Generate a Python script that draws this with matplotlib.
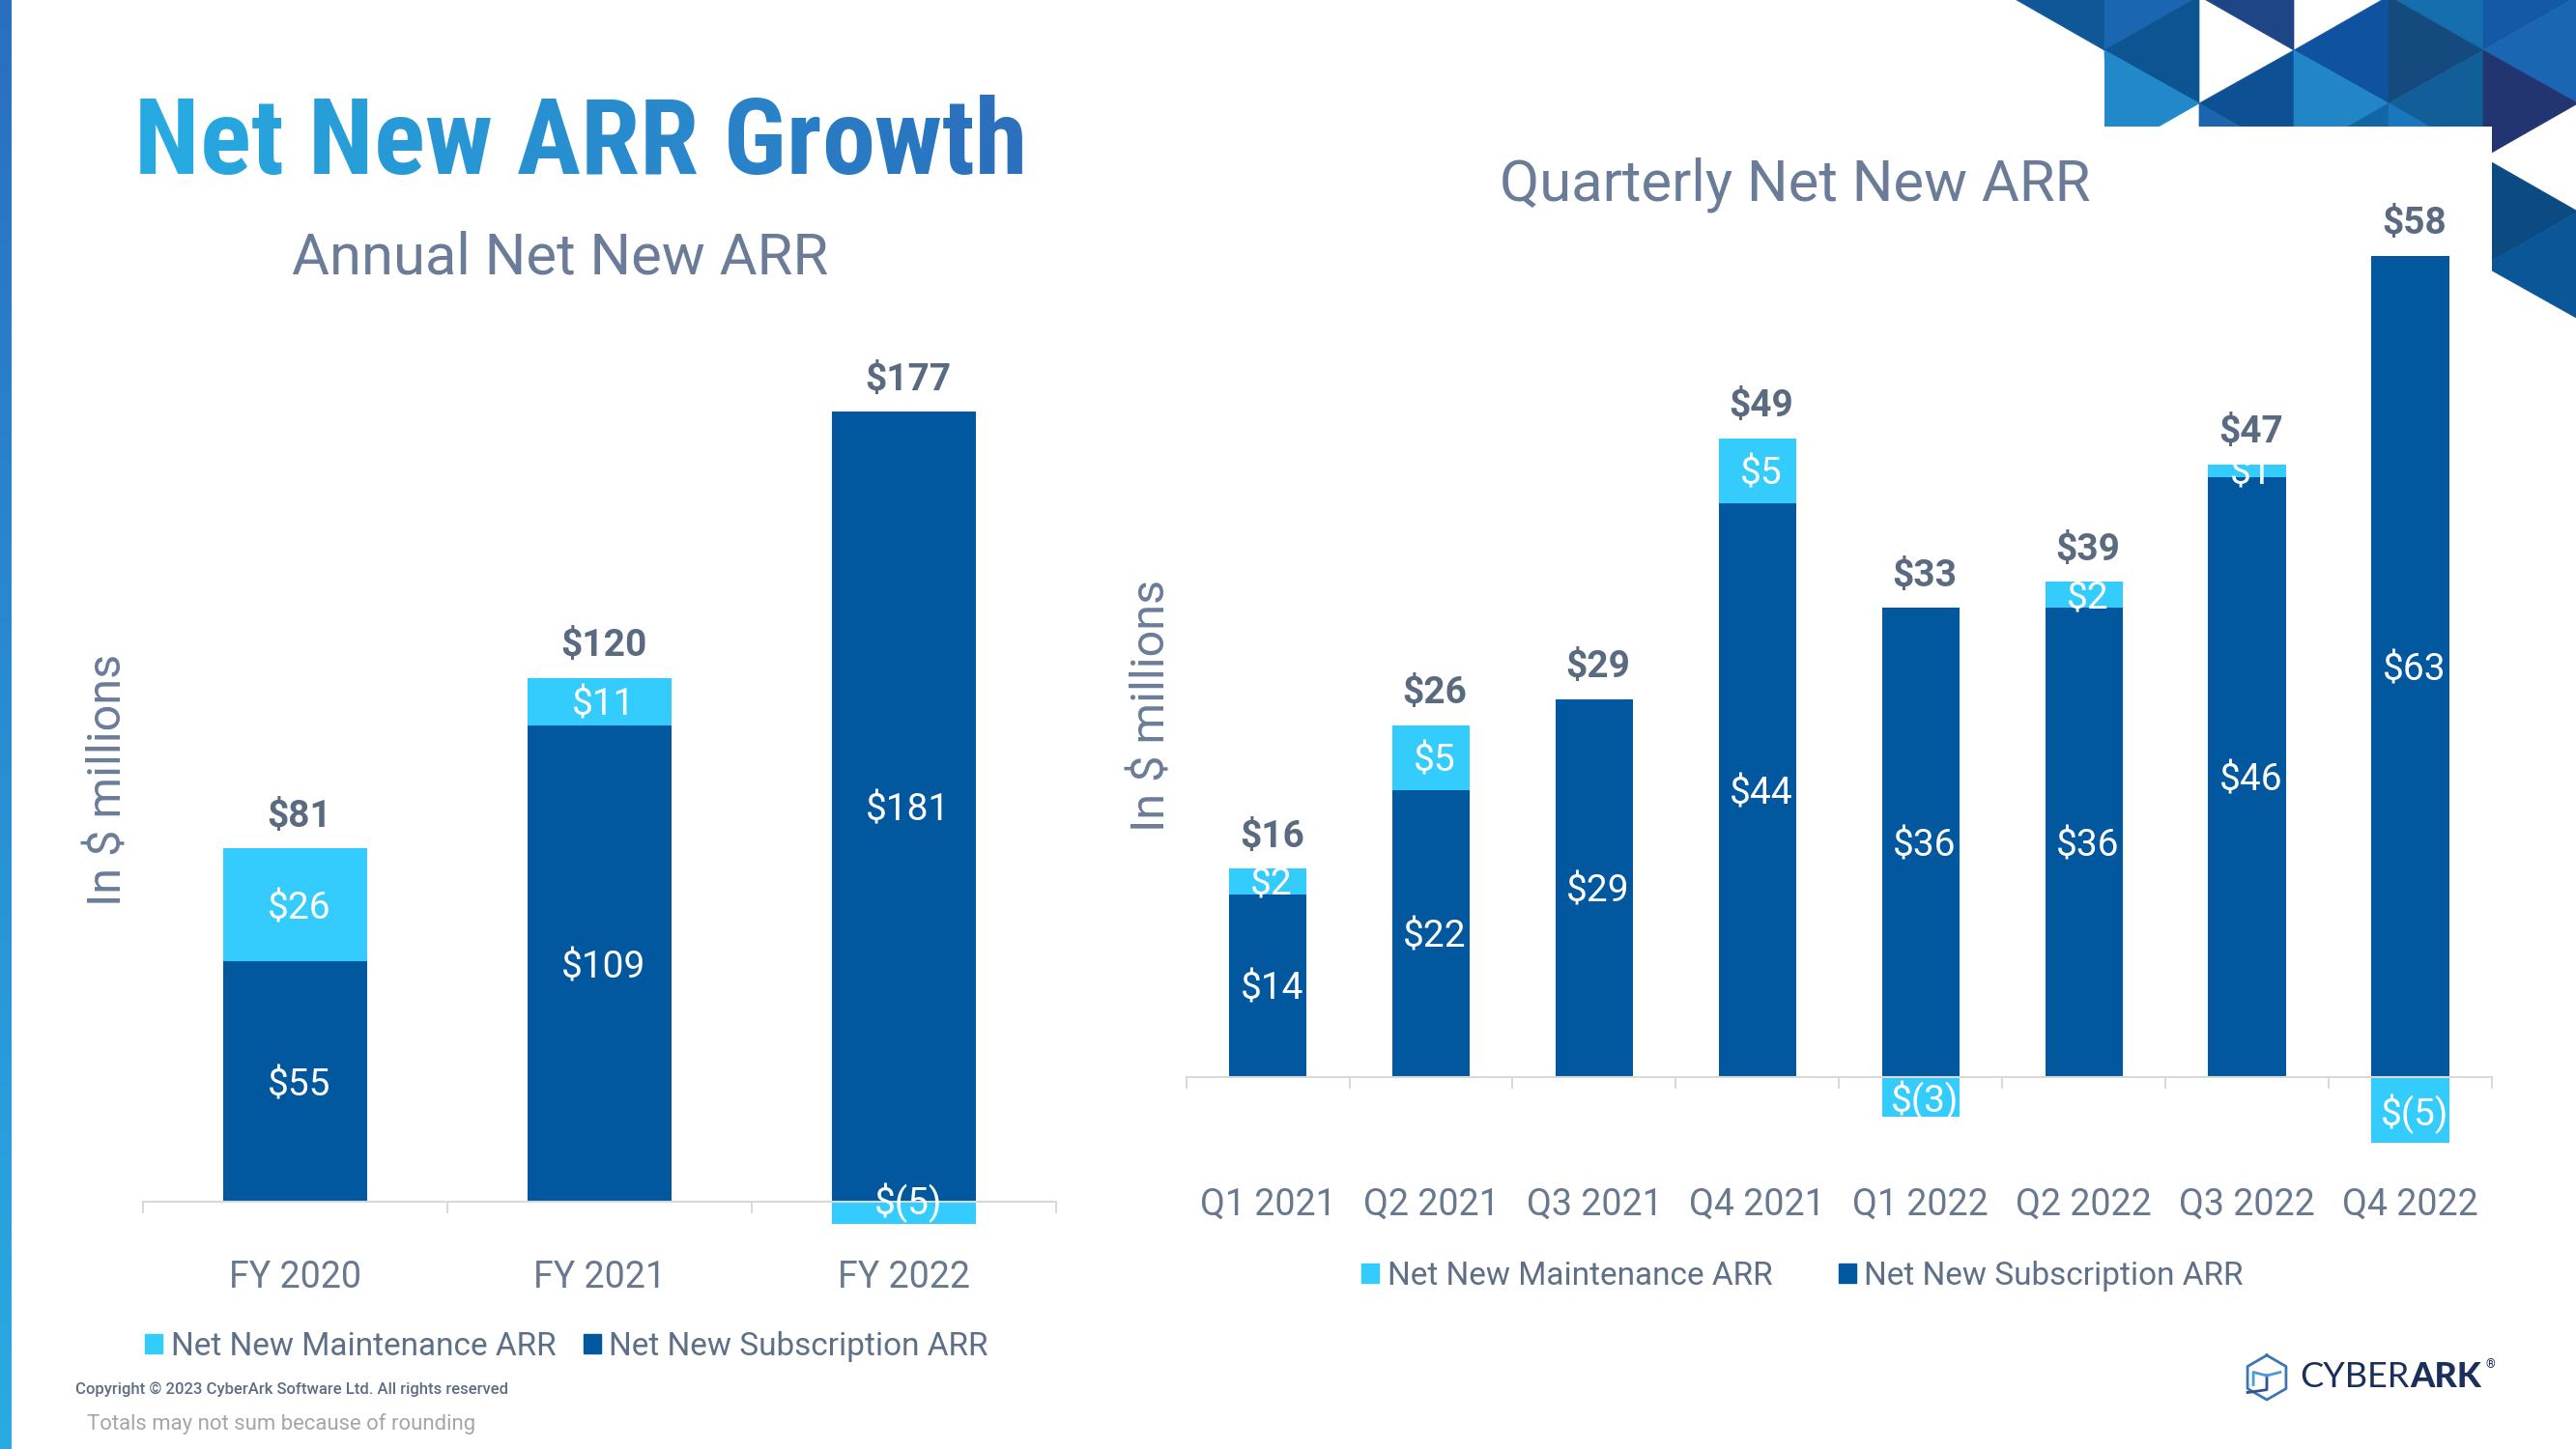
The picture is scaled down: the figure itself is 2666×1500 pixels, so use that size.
import matplotlib
matplotlib.use("Agg")
import matplotlib.pyplot as plt
from matplotlib import font_manager
from matplotlib.patches import Patch, Polygon
from matplotlib.colors import LinearSegmentedColormap, to_rgb
import numpy as np

# ---- data ----
years = ["FY 2020", "FY 2021", "FY 2022"]
year_subs = [55, 109, 181]
year_maint = [26, 11, -5]
year_total = [81, 120, 177]

quarters = ["Q1 2021", "Q2 2021", "Q3 2021", "Q4 2021",
            "Q1 2022", "Q2 2022", "Q3 2022", "Q4 2022"]
q_subs = [14, 22, 29, 44, 36, 36, 46, 63]
q_maint = [2, 5, 0, 5, -3, 2, 1, -5]
q_total = [16, 26, 29, 49, 33, 39, 47, 58]

legend_names = ["Net New Maintenance ARR", "Net New Subscription ARR"]

# ---- style ----
SUB = "#02589e"
MAINT = "#33ccfc"
SLATE = "#68788f"
TOTAL_C = "#5a6a80"
GRID = "#d9d9d9"

plt.rcParams['font.family'] = ['Roboto', 'DejaVu Sans']
names = {f.name for f in font_manager.fontManager.ttflist}
cond = 'Roboto Condensed' in names

W, H = 2666, 1500
fig = plt.figure(figsize=(26.66, 15), dpi=100)
fig.patch.set_facecolor("white")

# background layer in pixel coordinates
bg = fig.add_axes([0, 0, 1, 1], zorder=0)
bg.set_axis_off()

# left stripe gradient
stripe = LinearSegmentedColormap.from_list("stripe", ["#2a6fbf", "#29abe2"])
bg.imshow(np.linspace(0, 1, 256).reshape(-1, 1), cmap=stripe, extent=[0, 12, 1500, 0],
          aspect='auto', zorder=1)

# triangle decoration top right
c = [2080, 2178, 2276, 2374, 2472, 2570, 2668]
ev = [-4, 107, 219, 330]     # vertices on even columns
od = [-60, 52, 163, 275]     # vertices on odd columns
tris = [
    ((c[0], ev[0]), (c[1], od[0]), (c[1], od[1]), "#0f5796"),
    ((c[1], od[0]), (c[2], ev[0]), (c[1], od[1]), "#1b66b0"),
    ((c[1], od[1]), (c[2], ev[0]), (c[2], ev[1]), "#0c5592"),
    ((c[1], od[1]), (c[2], ev[1]), (c[1], od[2]), "#2189c9"),
    ((c[2], ev[0]), (c[3], od[0]), (c[3], od[1]), "#1e4585"),
    ((c[2], ev[1]), (c[3], od[1]), (c[3], od[2]), "#0d5094"),
    ((c[2], ev[1]), (c[3], od[2]), (c[2], ev[2]), "#1b65ae"),
    ((c[3], od[1]), (c[4], ev[0]), (c[4], ev[1]), "#0f52a0"),
    ((c[3], od[1]), (c[4], ev[1]), (c[3], od[2]), "#2286c6"),
    ((c[4], ev[1]), (c[3], od[2]), (c[4], ev[2]), "#1167a6"),
    ((c[4], ev[0]), (c[5], od[0]), (c[5], od[1]), "#156fae"),
    ((c[4], ev[0]), (c[5], od[1]), (c[4], ev[1]), "#154a7e"),
    ((c[4], ev[1]), (c[5], od[1]), (c[5], od[2]), "#125e98"),
    ((c[4], ev[1]), (c[5], od[2]), (c[4], ev[2]), "#1a77bd"),
    ((c[5], od[1]), (c[6], ev[0]), (c[5], od[0]), "#1459a6"),
    ((c[5], od[1]), (c[6], ev[0]), (c[6], ev[1]), "#1b66b2"),
    ((c[5], od[1]), (c[6], ev[1]), (c[5], od[2]), "#233570"),
    ((c[5], od[2]), (c[6], ev[2]), (c[5], od[3]), "#0b4b82"),
    ((c[6], ev[2]), (c[5], od[3]), (c[6], ev[3]), "#0b5696"),
]
clip = Polygon([(2060, 0), (2670, 0), (2670, 333), (2579, 333), (2579, 131),
                (2178, 131), (2178, 60), (2060, 0)], closed=True,
               transform=bg.transData, facecolor="none", edgecolor="none")
bg.add_patch(clip)
for a, b, d, col in tris:
    p = Polygon([a, b, d], closed=True, facecolor=col, edgecolor=col, lw=0.5)
    bg.add_patch(p)
    p.set_clip_path(clip)

# logo icon
cx, cy, r = 2346, 1426, 23
ang = np.radians(np.arange(90, 451, 60))
hx, hy = cx + r * np.cos(ang), cy - r * np.sin(ang)
bg.plot(hx, hy, color="#3b77b5", lw=2)
bg.plot([cx, cx, hx[2]], [cy - 2, cy + r * 0.55, hy[2] + 4], color="#33508a", lw=2)
bg.plot([cx, hx[1] + 6, hx[1] + 6], [cy - 2, hy[1] + 6, hy[2] - 4], color="#4a9bd6", lw=2)
bg.plot([cx, hx[5] - 6], [cy - 2, hy[5] + 6], color="#4a9bd6", lw=2)

bg.set_xlim(0, W)
bg.set_ylim(H, 0)

# ---- title with a left-to-right gradient ----
renderer = fig.canvas.get_renderer()
title = "Net New ARR Growth"
if cond:
    tprop = font_manager.FontProperties(family='Roboto Condensed', weight='bold', size=79.5)
else:
    tprop = font_manager.FontProperties(family='Roboto', weight='bold', size=72)
c0, c1 = np.array(to_rgb("#27aae1")), np.array(to_rgb("#2a6cba"))
full_w = renderer.get_text_width_height_descent(title, tprop, ismath=False)[0]
for i, ch in enumerate(title):
    if ch == " ":
        continue
    right = renderer.get_text_width_height_descent(title[:i + 1], tprop, ismath=False)[0]
    own = renderer.get_text_width_height_descent(ch, tprop, ismath=False)[0]
    left = right - own
    f = left / full_w
    fig.text((139 + left) / W, 1 - 180 / H, ch, fontproperties=tprop,
             color=c0 * (1 - f) + c1 * f, ha='left', va='baseline')

fig.text(580 / W, 1 - 284 / H, "Annual Net New ARR", fontsize=43, color="#6a7c98",
         ha='center', va='baseline')
fig.text(1858 / W, 1 - 207 / H, "Quarterly Net New ARR", fontsize=43, color="#6a7c98",
         ha='center', va='baseline')
fig.text(112 / W, 1 - 807 / H, "In $ millions", fontsize=35, color="#6a7c98",
         rotation=90, ha='center', va='center')
fig.text(1192 / W, 1 - 730 / H, "In $ millions", fontsize=35, color="#6a7c98",
         rotation=90, ha='center', va='center')


def money(v):
    return "$(%d)" % abs(v) if v < 0 else "$%d" % v


def draw_chart(ax, cats, subs, maint, totals, ylim, pad, neg_at_zero):
    x = np.arange(len(cats))
    bottoms = [s if m > 0 else 0 for s, m in zip(subs, maint)]
    ax.bar(x, subs, width=0.475, color=SUB, zorder=2)
    ax.bar(x, maint, width=0.475, bottom=bottoms, color=MAINT, zorder=2)
    for i in range(len(cats)):
        s, m = subs[i], maint[i]
        ax.annotate(money(s), (x[i], s / 2), xytext=(3, 0), textcoords='offset points',
                    color="white", fontsize=28, ha='center', va='center_baseline', zorder=4)
        if m != 0:
            if m > 0:
                ym = s + m / 2
            else:
                ym = 0 if neg_at_zero else m / 2
            ax.annotate(money(m), (x[i], ym), xytext=(3, 2 if neg_at_zero and m < 0 else 0),
                        textcoords='offset points', color="white", fontsize=28,
                        ha='center', va='center_baseline', zorder=4)
        ax.annotate(money(totals[i]), (x[i], s + max(m, 0)), xytext=(3, 16),
                    textcoords='offset points', ha='center', va='baseline',
                    fontsize=28, fontweight='bold', color=TOTAL_C)
    ax.set_xlim(-0.5, len(cats) - 0.5)
    ax.set_ylim(*ylim)
    ax.set_facecolor("none")
    for side in ['top', 'left', 'right']:
        ax.spines[side].set_visible(False)
    ax.spines['bottom'].set_position(('data', 0))
    ax.spines['bottom'].set_color(GRID)
    ax.spines['bottom'].set_linewidth(1.5)
    ax.spines['bottom'].set_zorder(3)
    ax.set_yticks([])
    ax.set_xticks(x)
    ax.set_xticklabels(cats)
    ax.set_xticks(np.arange(len(cats) + 1) - 0.5, minor=True)
    ax.tick_params(axis='x', which='major', length=0, pad=pad, labelsize=27,
                   labelcolor=SLATE)
    ax.tick_params(axis='x', which='minor', length=8.6, width=1.44, color=GRID,
                   direction='out')


ax1 = fig.add_axes([148 / W, 1 - 1334.4 / H, 945 / W, (1334.4 - 340) / H], zorder=2)
draw_chart(ax1, years, year_subs, year_maint, year_total, (-20, 200), 43, True)

ax2 = fig.add_axes([1227.6 / W, 1 - 1250 / H, 1351.4 / W, 1080 / H], zorder=2)
draw_chart(ax2, quarters, q_subs, q_maint, q_total, (-10, 70), 82, False)

handles = [Patch(color=MAINT), Patch(color=SUB)]
for lx, ly, sp in [(150, 1394, 0.85), (1409, 1321, 2.05)]:
    fig.legend(handles, legend_names, loc='center left',
               bbox_to_anchor=(lx / W, 1 - ly / H), ncol=2, frameon=False,
               borderaxespad=0, borderpad=0, handlelength=0.55, handleheight=0.55,
               handletextpad=0.25, columnspacing=sp, fontsize=24, labelcolor="#5e6f88")

# footer
fig.text(78 / W, 1 - 1438 / H, "Copyright © 2023 CyberArk Software Ltd. All rights reserved",
         fontsize=12, fontweight=500, color="#5d6d82", ha='left', va='center')
fig.text(90 / W, 1 - 1474 / H, "Totals may not sum because of rounding",
         fontsize=15.9, color="#a6a6a6", ha='left', va='center')

# logo text
lprop = font_manager.FontProperties(family=['Lato', 'Roboto'], size=26)
fig.text(2380 / W, 1 - 1426 / H, "CYBER", fontproperties=lprop, color="#1b2f5b",
         ha='left', va='center')
cw = renderer.get_text_width_height_descent("CYBER", lprop, ismath=False)[0]
bprop = font_manager.FontProperties(family=['Lato', 'Roboto'], size=26, weight='black')
fig.text((2381 + cw) / W, 1 - 1426 / H, "ARK", fontproperties=bprop, color="#1b2f5b",
         ha='left', va='center')
aw = renderer.get_text_width_height_descent("ARK", bprop, ismath=False)[0]
fig.text((2385 + cw + aw) / W, 1 - 1413 / H, "®", fontsize=9, color="#1b2f5b",
         ha='left', va='center')

fig.savefig("out.png", dpi=100)
